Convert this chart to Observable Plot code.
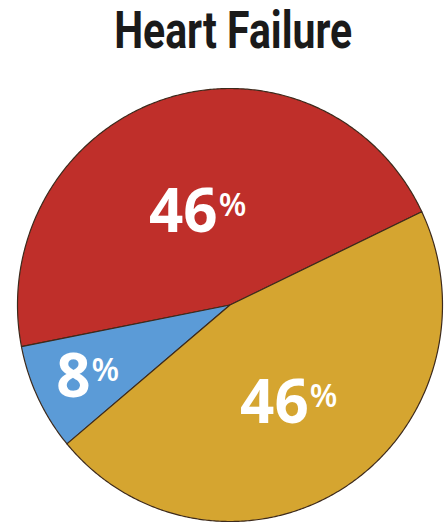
<!DOCTYPE html>
<html>
<head>
<meta charset="utf-8">
<script src="https://cdn.jsdelivr.net/npm/d3@7"></script>
<script src="https://cdn.jsdelivr.net/npm/@observablehq/plot@0.6"></script>
<style>
  html, body { margin: 0; padding: 0; background: #fff; }
  #wrap { width: 448px; height: 524px; position: relative; overflow: hidden; }
  #title {
    position: absolute; left: 9px; top: 5px; width: 448px; text-align: center;
    line-height: 1;
  }
  #title span {
    display: inline-block; white-space: nowrap;
    font-family: Roboto, "Liberation Sans", sans-serif;
    font-weight: 700; font-size: 52px; color: #1a1a1a; transform-origin: 50% 50%;
  }
  #chart { position: absolute; left: 0; top: 70px; }
</style>
</head>
<body>
<div id="wrap">
  <div id="title"><span></span></div>
  <div id="chart"></div>
</div>
<script>
// ---- data ----
const titleText = "Heart Failure";
const slices = ["Slice A", "Slice B", "Slice C"];
const values = [46, 8, 46];
const colors = ["#BF2F2A", "#5B9BD7", "#D5A530"];
const labels = ["46", "8", "46"];

const tspan = document.querySelector("#title span");
tspan.textContent = titleText;
const w = tspan.getBoundingClientRect().width;
tspan.style.transform = `scaleX(${238 / w})`;

// ---- geometry (from values) ----
const startDeg = 25.5;          // math angle (CCW from east) where the first slice starts
const labelFrac = [0.47, 0.74, 0.52];
const total = d3.sum(values);
const rad = Math.PI / 180;
let acc = startDeg;
const poly = [];
const labelRows = [];
slices.forEach((s, i) => {
  const a0 = acc, a1 = acc + values[i] / total * 360;
  acc = a1;
  poly.push({slice: s, x: 0, y: 0});
  const n = Math.max(4, Math.ceil((a1 - a0) * 2));
  for (let k = 0; k <= n; k++) {
    const a = (a0 + (a1 - a0) * k / n) * rad;
    poly.push({slice: s, x: Math.cos(a), y: Math.sin(a)});
  }
  poly.push({slice: s, x: 0, y: 0});
  const mid = (a0 + a1) / 2 * rad;
  const f = labelFrac[i];
  labelRows.push({slice: s, num: labels[i], x: f * Math.cos(mid), y: f * Math.sin(mid)});
});

const numSize = 60, pctSize = 32;
const digitW = 33, pctW = 28;
const numFont = "'Open Sans', 'Liberation Sans', sans-serif";

const chart = Plot.plot({
  width: 448,
  height: 454,
  margin: 0,
  x: {domain: [-1, 1], range: [17, 442], axis: null},
  y: {domain: [-1, 1], range: [451, 18], axis: null},
  color: {domain: slices, range: colors},
  marks: [
    Plot.line(poly, {
      x: "x", y: "y", z: "slice", fill: "slice",
      stroke: "#3d2a1c", strokeWidth: 1.2, strokeLinejoin: "round", curve: "linear"
    }),
    ...labelRows.map(d => {
      const numW = d.num.length * digitW;
      const split = (numW - pctW) / 2;
      return [
        Plot.text([d], {x: "x", y: "y", text: "num", textAnchor: "end", dx: split, dy: 4,
          fill: "white", fontSize: numSize, fontWeight: 700, fontFamily: numFont}),
        Plot.text([d], {x: "x", y: "y", text: () => "%", textAnchor: "start", dx: split + 1, dy: -3,
          fill: "white", fontSize: pctSize, fontWeight: 600, fontFamily: numFont})
      ];
    }).flat()
  ]
});
document.getElementById("chart").appendChild(chart);
</script>
</body>
</html>
